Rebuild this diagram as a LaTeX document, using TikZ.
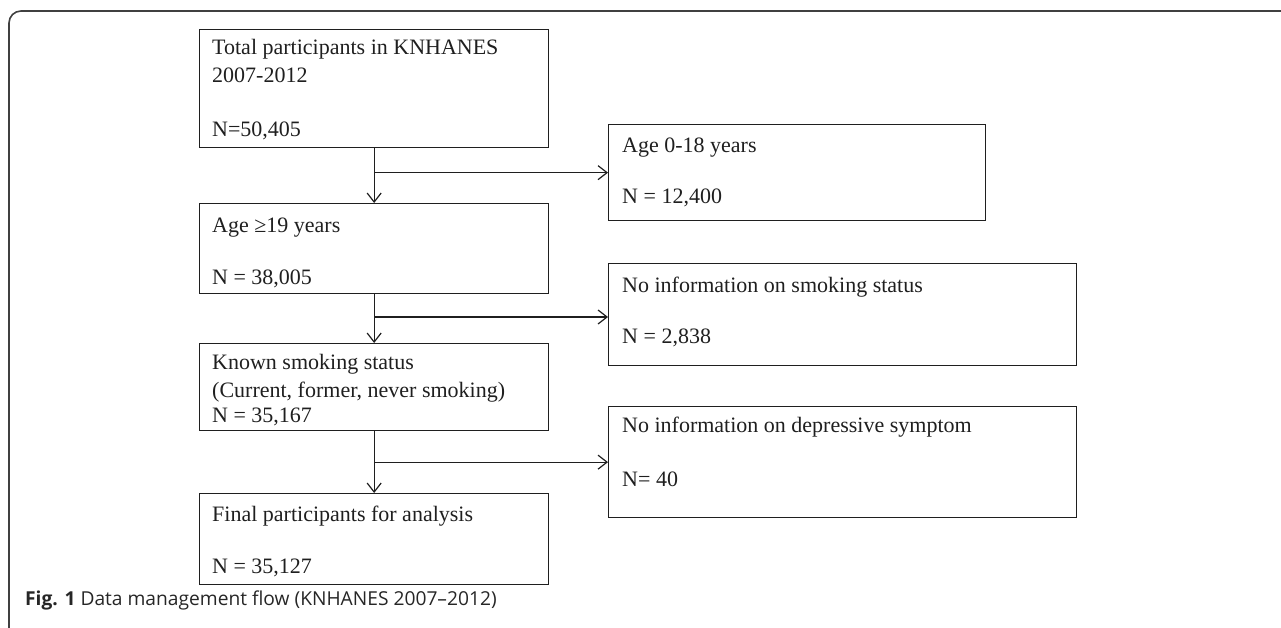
\documentclass[tikz,border=0pt]{standalone}
\usepackage{fontspec}
\setmainfont{Liberation Serif}
\newfontfamily\capfont{Open Sans}
\usetikzlibrary{arrows.meta}
\begin{document}
\begin{tikzpicture}[x=1pt,y=-1pt,
  box/.style={draw=black!88,line width=1.3pt,minimum width=#1,anchor=north west,inner sep=0pt},
  txt/.style={anchor=base west,inner sep=0pt,font=\fontsize{22}{26}\selectfont,text=black!88},
  arr/.style={draw=black!88,line width=1.3pt,-{Straight Barb[length=9pt,width=14pt,line width=1.2pt]}},
  ln/.style={draw=black!88,line width=1.3pt}]
\useasboundingbox (0,0) rectangle (1281,628);
% frame
\draw[draw=black!75,line width=1.6pt] (9,628) -- (9,23) arc[start angle=180,end angle=270,radius=12] -- (1281,11);
% boxes
\node[box=349pt,minimum height=118pt] (b1) at (199,29) {};
\node[box=349pt,minimum height=90pt] (b3) at (199,203) {};
\node[box=349pt,minimum height=87pt] (b5) at (199,343) {};
\node[box=349pt,minimum height=91pt] (b7) at (199,493) {};
\node[box=377pt,minimum height=96pt] (b2) at (608,124) {};
\node[box=468pt,minimum height=102pt] (b4) at (608,263) {};
\node[box=468pt,minimum height=111pt] (b6) at (608,406) {};
% texts
\node[txt] (t1a) at (212,55) {Total participants in KNHANES};
\node[txt] (t1b) at (212,83) {2007-2012};
\node[txt] (t1c) at (212,137) {N=50,405};
\node[txt] (t3a) at (212,233) {Age ≥19 years};
\node[txt] (t3b) at (212,284) {N = 38,005};
\node[txt] (t5a) at (212,369) {Known smoking status};
\node[txt] (t5b) at (212,397) {(Current, former, never smoking)};
\node[txt] (t5c) at (212,422) {N = 35,167};
\node[txt] (t7a) at (212,521) {Final participants for analysis};
\node[txt] (t7b) at (212,573) {N = 35,127};
\node[txt] (t2a) at (622,153) {Age 0-18 years};
\node[txt] (t2b) at (622,204) {N = 12,400};
\node[txt] (t4a) at (622,292) {No information on smoking status};
\node[txt] (t4b) at (622,343) {N = 2,838};
\node[txt] (t6a) at (622,432) {No information on depressive symptom};
\node[txt] (t6b) at (622,486) {N= 40};
% connectors
\draw[arr] (b1.south) -- (b3.north);
\draw[arr] (b3.south) -- (b5.north);
\draw[arr] (b5.south) -- (b7.north);
\coordinate (j1) at (b1.south |- b2.west);
\coordinate (j2) at (b3.south |- 0,317);
\coordinate (j3) at (b5.south |- b6.west);
\draw[arr] (j1) -- (b2.west);
\draw[arr] (j2) -- (b4.west |- j2);
\draw[arr] (j3) -- (b6.west);
% caption
\node[anchor=base west,inner sep=0pt,font=\capfont\fontsize{19.2}{23}\selectfont,text=black!85] (cap) at (25,605) {\textbf{Fig. 1} Data management flow (KNHANES 2007–2012)};
\end{tikzpicture}
\end{document}
